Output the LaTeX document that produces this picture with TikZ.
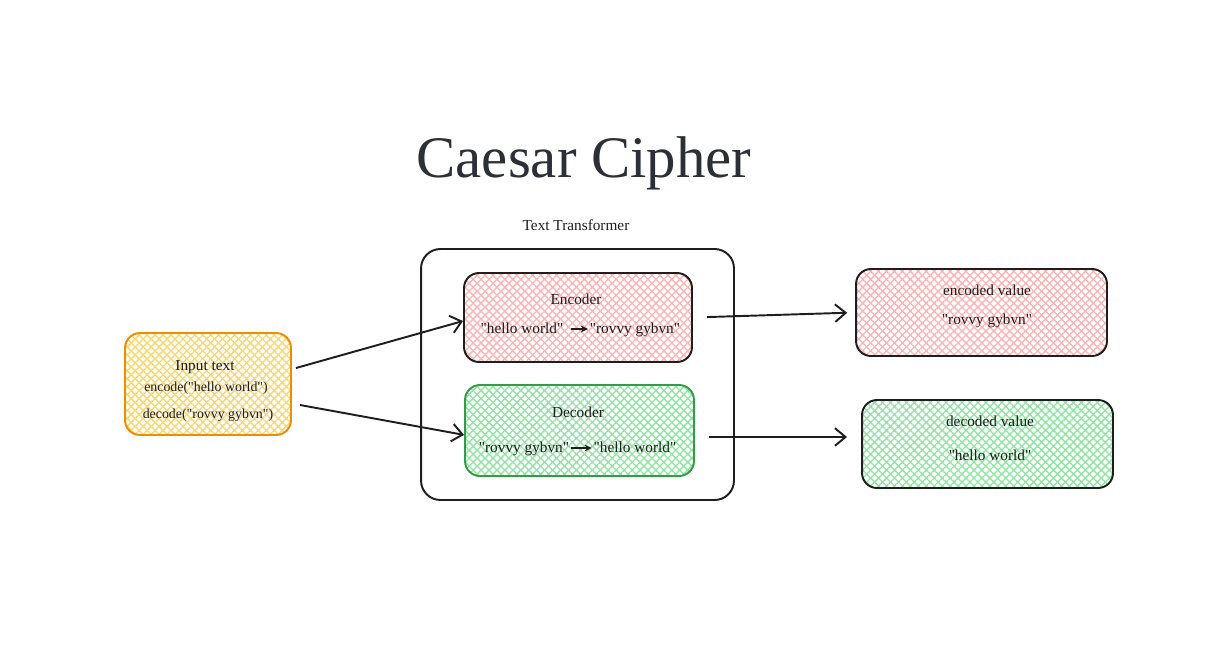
\documentclass[tikz,border=0pt]{standalone}
\usepackage{fontspec}
\setmainfont{Liberation Serif}
\usetikzlibrary{positioning,arrows.meta,patterns.meta}
\definecolor{ink}{HTML}{1E1E1E}
\definecolor{titleink}{HTML}{2C3036}
\definecolor{orangeline}{HTML}{F08C00}
\definecolor{yellowfill}{HTML}{FFD766}
\definecolor{redfill}{HTML}{FFB3B3}
\definecolor{greenline}{HTML}{2F9E44}
\definecolor{greenfill}{HTML}{8FE6A2}
\newcommand{\dq}[1]{\textquotedbl#1\textquotedbl}
\tikzset{
  box/.style={rectangle,draw=ink,line width=1.1pt,rounded corners=8.5pt,inner sep=0pt},
  hatch/.style={pattern={Hatch[angle=45,distance=3.2pt,line width=0.75pt]},pattern color=#1},
  frame/.style={box,rounded corners=11pt,minimum width=6.26cm,minimum height=5.02cm},
  txt/.style={font=\fontsize{8.7}{10}\selectfont,text=ink,inner sep=1pt,
              text height=1.6ex,text depth=0.4ex},
  smalltxt/.style={txt,font=\fontsize{7.9}{9}\selectfont},
  heading/.style={font=\fontsize{33.5}{40}\selectfont,text=titleink,inner sep=0pt},
  link/.style={-{Straight Barb[length=6pt,width=10pt]},line width=1.1pt,draw=ink},
  minilink/.style={-{Stealth[length=4pt,width=4pt]},line width=0.9pt,draw=ink},
}

\begin{document}
\begin{tikzpicture}[x=0.02cm,y=-0.02cm]
  \useasboundingbox (0,0) rectangle (1223,649);

  % title
  \node[heading,anchor=base] (title) at (584,177) {Caesar Cipher};

  % input
  \node[box,draw=orangeline,hatch=yellowfill,minimum width=3.32cm,minimum height=2.04cm]
    (inp) at (208,384) {};
  \node[txt] (inpT) at (205,366) {Input text};
  \node[smalltxt] (inpE) at (206,387) {encode(\dq{hello world})};
  \node[smalltxt] (inpD) at (208,414) {decode(\dq{rovvy gybvn})};

  % transformer
  \node[frame] (tt) at (577.5,374.5) {};
  \node[txt,anchor=base] (ttT) at (576,230) {Text Transformer};

  \node[box,hatch=redfill,minimum width=4.56cm,minimum height=1.78cm] (enc) at (578,317.5) {};
  \node[txt] (encT) at (576,300) {Encoder};
  \node[txt] (encL) at (522,329) {\dq{hello world}};
  \node[txt] (encR) at (635,329) {\dq{rovvy gybvn}};
  \draw[minilink,shorten <=3pt] (encL) -- (encR);

  \node[box,draw=greenline,hatch=greenfill,minimum width=4.58cm,minimum height=1.82cm]
    (dec) at (579.5,430.5) {};
  \node[txt] (decT) at (578,413) {Decoder};
  \node[txt] (decL) at (524,448) {\dq{rovvy gybvn}};
  \node[txt] (decR) at (635,448) {\dq{hello world}};
  \draw[minilink] (decL) -- (decR);

  % outputs
  \node[box,hatch=redfill,minimum width=5.02cm,minimum height=1.74cm] (encval) at (981.5,312.5) {};
  \node[txt] (encvalT) at (987,291) {encoded value};
  \node[txt] (encvalV) at (987,320) {\dq{rovvy gybvn}};

  \node[box,hatch=greenfill,minimum width=5.02cm,minimum height=1.76cm] (decval) at (987.5,444) {};
  \node[txt] (decvalT) at (990,422) {decoded value};
  \node[txt] (decvalV) at (990,456) {\dq{hello world}};

  % connectors
  \coordinate (inpA) at (296,368);
  \coordinate (inpB) at (300,405);
  \coordinate (decOut) at (709,437);
  \draw[link] (inpA) -- ([yshift=-2pt]enc.west);
  \draw[link] (inpB) -- ([yshift=-2.5pt]dec.west);
  \draw[link,shorten <=8pt,shorten >=4.5pt] (enc.east) -- (encval.west);
  \draw[link,shorten >=8pt] (decOut) -- (decOut -| decval.west);
\end{tikzpicture}
\end{document}
